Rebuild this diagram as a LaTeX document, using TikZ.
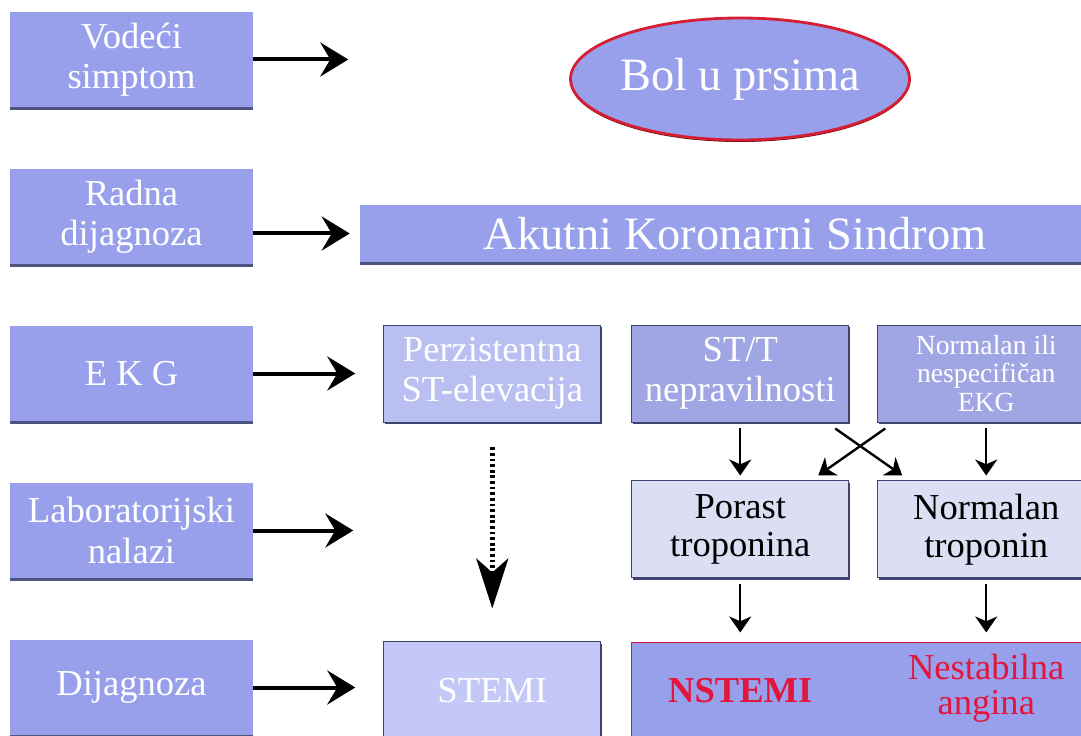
\documentclass[tikz,border=0pt]{standalone}
\usepackage{fontspec}
\setmainfont{Liberation Serif}
\usetikzlibrary{positioning,shapes.geometric,arrows.meta,shadows}
\definecolor{leftblue}{RGB}{152,160,236}
\definecolor{paleblue}{RGB}{186,191,242}
\definecolor{greyblue}{RGB}{160,166,228}
\definecolor{mistblue}{RGB}{220,222,244}
\definecolor{stemiblue}{RGB}{196,200,246}
\definecolor{edgeblue}{RGB}{62,68,112}
\definecolor{shadeblue}{RGB}{78,84,128}
\definecolor{alarmred}{RGB}{226,22,60}
\definecolor{rimred}{RGB}{214,30,50}
\begin{document}
\begin{tikzpicture}[node distance = 3.925cm, auto,
  rowbox/.style={rectangle, fill=leftblue, text=white, inner sep=0pt, minimum width=6.075cm, minimum height=2.375cm, align=center, font=\fontsize{26}{28.5}\selectfont, drop shadow={shadow xshift=0cm, shadow yshift=-0.07cm, fill=shadeblue, opacity=1}},
  ekgbox/.style={rectangle, draw=edgeblue, line width=0.7pt, inner sep=0pt, minimum width=5.425cm, minimum height=2.425cm, align=center, text=white, font=\fontsize{26}{28.5}\selectfont, drop shadow={shadow xshift=0.02cm, shadow yshift=-0.05cm, fill=edgeblue, opacity=1}},
  bigarrow/.style={-{Stealth[length=0.7cm,width=0.85cm,inset=0.25cm]}, line width=0.1cm},
  smallarrow/.style={-{Stealth[length=0.4cm,width=0.55cm,inset=0.12cm]}, line width=0.06cm},
  dotarrow/.style={-{Stealth[length=1.25cm,width=0.8cm,inset=0.35cm]}, line width=0.12cm, dash pattern=on 0.07cm off 0.07cm}]
\useasboundingbox[fill=white] (0,0) rectangle (27.025,-18.4);

\node (vod) [rowbox] at (3.2875,-1.4875) {Vodeći\\simptom};
\node (rad) [rowbox, below of=vod] {Radna\\dijagnoza};
\node (ekg) [rowbox, below of=rad] {E K G};
\node (lab) [rowbox, below of=ekg] {Laboratorijski\\nalazi};
\node (dij) [rowbox, below of=lab] {Dijagnoza};

\node (bol) [ellipse, fill=leftblue, draw=rimred, line width=2pt, minimum width=7.7cm, minimum height=3.05cm, inner sep=0pt, text=white, font=\fontsize{33}{36}\selectfont, drop shadow={shadow xshift=0cm, shadow yshift=-0.05cm, fill=rimred!45!black, opacity=1}] at (18.5,-1.975) {Bol u prsima};
\node (aks) [rowbox, minimum width=18.75cm, minimum height=1.425cm, font=\fontsize{33}{36}\selectfont] at (18.375,-5.8375) {Akutni Koronarni Sindrom};

\node (per) [ekgbox, fill=paleblue, right=3.25cm of ekg] {Perzistentna\\ST-elevacija};
\node (stt) [ekgbox, fill=greyblue, right=0.75cm of per] {ST/T\\nepravilnosti};
\node (nor) [ekgbox, fill=greyblue, right=0.7cm of stt, font=\fontsize{19.7}{20.6}\selectfont] {Normalan ili\\nespecifičan\\EKG};
\node (por) [ekgbox, fill=mistblue, text=black, below=1.45cm of stt, font=\fontsize{26}{27}\selectfont] {Porast\\troponina};
\node (ntr) [ekgbox, fill=mistblue, text=black, below=1.45cm of nor, font=\fontsize{26}{27}\selectfont] {Normalan\\troponin};
\node (stemi) [ekgbox, fill=stemiblue, below=5.475cm of per] {STEMI};
\node (dg) [rectangle, fill=leftblue, draw=alarmred, line width=0.7pt, minimum width=12cm, minimum height=2.375cm, anchor=north west, drop shadow={shadow xshift=0cm, shadow yshift=-0.05cm, fill=shadeblue, opacity=1}] at ([yshift=-1.6cm]por.south west) {};
\node (nst) [text=alarmred, font=\fontsize{26}{28}\selectfont\bfseries] at (stt |- dg) {NSTEMI};
\node (nan) [text=alarmred, align=center, font=\fontsize{26}{25}\selectfont] at ([yshift=0.05cm]nor |- dg) {Nestabilna\\angina};

\coordinate [right=2.375cm of vod.east] (vodTip);
\coordinate [right=2.5cm of lab.east] (labTip);

\path [bigarrow] (vod) edge (vodTip);
\path [bigarrow, shorten >=0.25cm] (rad.east |- aks) edge (aks.west);
\path [bigarrow, shorten >=0.7cm] (ekg) edge (per);
\path [bigarrow] (lab) edge (labTip);
\path [bigarrow, shorten >=0.7cm] (dij.east) edge (dij.east -| stemi.west);

\path [smallarrow, shorten <=0.15cm, shorten >=0.125cm] (stt) edge (por);
\path [smallarrow, shorten <=0.15cm, shorten >=0.125cm] (nor) edge (ntr);
\path [smallarrow] ([xshift=0.2cm,yshift=-0.15cm]nor.south west) edge ([xshift=-0.775cm,yshift=0.125cm]por.north east);
\path [smallarrow] ([xshift=-0.35cm,yshift=-0.15cm]stt.south east) edge ([xshift=0.625cm,yshift=0.125cm]ntr.north west);
\path [smallarrow, shorten <=0.15cm, shorten >=0.25cm] (por) edge (por |- dg.north);
\path [smallarrow, shorten <=0.15cm, shorten >=0.25cm] (ntr) edge (ntr |- dg.north);
\path [dotarrow, shorten <=0.625cm, shorten >=0.825cm] (per) edge (stemi);
\end{tikzpicture}
\end{document}
